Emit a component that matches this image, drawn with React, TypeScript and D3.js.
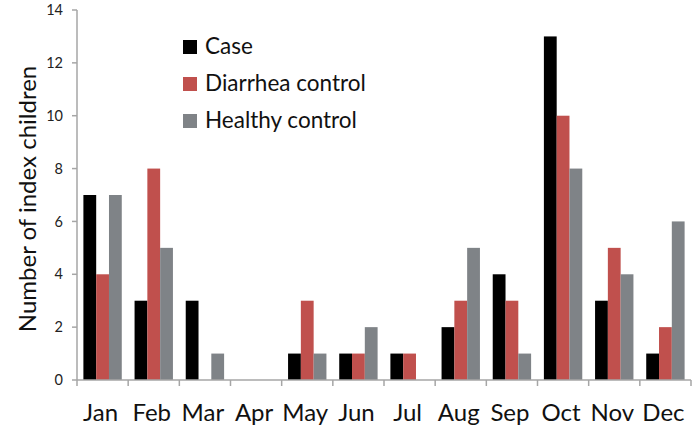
import React from "react";
import * as d3 from "d3";

const months = ["Jan", "Feb", "Mar", "Apr", "May", "Jun", "Jul", "Aug", "Sep", "Oct", "Nov", "Dec"];
const seriesNames = ["Case", "Diarrhea control", "Healthy control"];
const caseValues = [7, 3, 3, 0, 1, 1, 1, 2, 4, 13, 3, 1];
const diarrheaValues = [4, 8, 0, 0, 3, 1, 1, 3, 3, 10, 5, 2];
const healthyValues = [7, 5, 1, 0, 1, 2, 0, 5, 1, 8, 4, 6];
const yTicks = [0, 2, 4, 6, 8, 10, 12, 14];
const colors = ["#000000", "#c0504d", "#7f8387"];

const W = 696;
const H = 430;
const margin = { left: 77, right: 5, top: 10, bottom: 50 };

export default function App() {
  const series = [caseValues, diarrheaValues, healthyValues];
  const x = d3
    .scaleBand<string>()
    .domain(months)
    .range([margin.left, W - margin.right])
    .paddingInner(0)
    .paddingOuter(0);
  const inner = d3
    .scaleBand<string>()
    .domain(seriesNames)
    .range([0, x.bandwidth()])
    .paddingOuter(0.5)
    .paddingInner(0);
  const y = d3.scaleLinear().domain([0, 14]).range([H - margin.bottom, margin.top]);
  const font = "Lato, 'Open Sans', sans-serif";
  const axisColor = "#a6a6a6";
  const x0 = margin.left;
  const y0 = y(0);

  return (
    <svg
      width={W}
      height={H}
      style={{ position: "absolute", left: 0, top: 0, background: "#fff" }}
      fontFamily={font}
    >
      {/* bars */}
      {months.map((m, i) => (
        <g key={m}>
          {series.map((vals, s) => (
            <rect
              key={s}
              x={(x(m) as number) + (inner(seriesNames[s]) as number)}
              y={y(vals[i])}
              width={inner.bandwidth()}
              height={y0 - y(vals[i])}
              fill={colors[s]}
            />
          ))}
        </g>
      ))}
      {/* y axis */}
      <line x1={x0} x2={x0} y1={y(14)} y2={y0} stroke={axisColor} strokeWidth={1.5} />
      {yTicks.map((t) => (
        <g key={t}>
          <line x1={x0 - 5} x2={x0} y1={y(t)} y2={y(t)} stroke={axisColor} strokeWidth={1.5} />
          <text
            x={x0 - 14}
            y={y(t)}
            dy="0.35em"
            textAnchor="end"
            fontSize={14.5}
            fill="#222"
          >
            {t}
          </text>
        </g>
      ))}
      {/* x axis */}
      <line x1={x0} x2={W - margin.right} y1={y0} y2={y0} stroke={axisColor} strokeWidth={1.5} />
      {[...months.map((m) => x(m) as number), W - margin.right].map((px, i) => (
        <line key={i} x1={px} x2={px} y1={y0} y2={y0 + 6} stroke={axisColor} strokeWidth={1.5} />
      ))}
      {months.map((m) => (
        <text
          key={m}
          x={(x(m) as number) + x.bandwidth() / 2 - 2}
          y={421}
          textAnchor="middle"
          fontSize={24}
          fill="#111"
        >
          {m}
        </text>
      ))}
      {/* y title */}
      <text
        transform={`translate(36, ${(y(14) + y0) / 2 + 4}) rotate(-90)`}
        textAnchor="middle"
        fontSize={24}
        fill="#111"
      >
        Number of index children
      </text>
      {/* legend */}
      {seriesNames.map((n, i) => (
        <g key={n} transform={`translate(183, ${40 + i * 37})`}>
          <rect x={0} y={0} width={14} height={14} fill={colors[i]} />
          <text x={22} y={14} fontSize={22.5} fill="#111">
            {n}
          </text>
        </g>
      ))}
    </svg>
  );
}
